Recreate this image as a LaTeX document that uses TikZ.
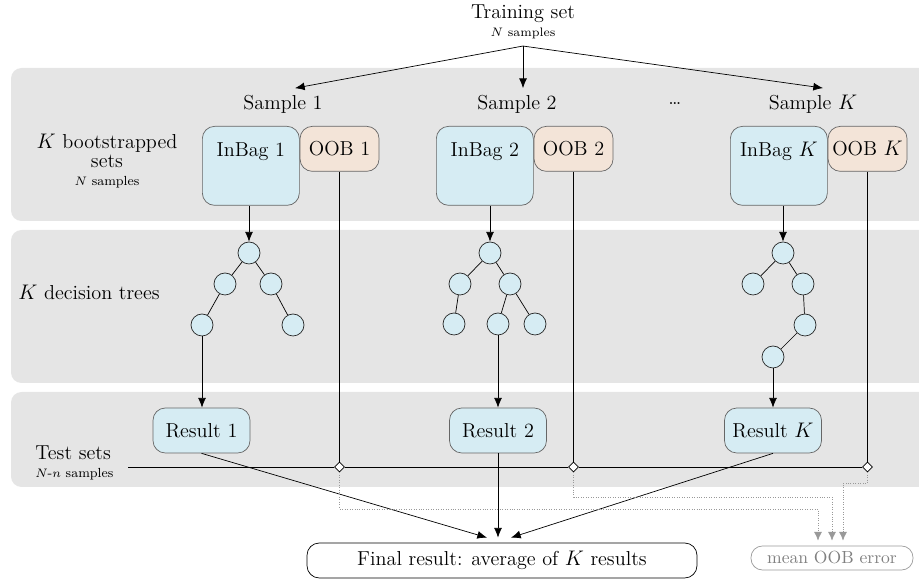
\documentclass[tikz,border=0pt,11pt]{standalone}
\usepackage{tikz}
\usetikzlibrary{positioning,shapes.geometric,arrows.meta}

\definecolor{bagblue}{RGB}{214,236,243}
\definecolor{oobpeach}{RGB}{243,228,216}
\definecolor{bandgray}{RGB}{229,229,229}

\tikzset{
  every node/.style={font=\fontsize{11.5}{13.5}\selectfont},
  band/.style={fill=bandgray,rounded corners=6pt},
  bagbox/.style={draw=gray!80!black,fill=bagblue,rounded corners=7pt,minimum width=1.94cm,inner xsep=0pt,inner ysep=0.3cm,text height=0.31cm,text depth=0.67cm,anchor=north west},
  oobbox/.style={draw=gray!80!black,fill=oobpeach,rounded corners=7pt,minimum width=1.58cm,minimum height=0.9cm,inner sep=0pt,anchor=north west},
  resbox/.style={draw=gray!80!black,fill=bagblue,rounded corners=7pt,minimum width=1.94cm,minimum height=0.9cm},
  leaf/.style={circle,draw=gray!30!black,fill=bagblue,minimum size=0.44cm,inner sep=0pt},
  junct/.style={diamond,draw=black,fill=white,inner sep=0pt,minimum size=0.2cm},
  arr/.style={-{Latex[length=5.5pt,width=4.5pt]}},
  oobarr/.style={densely dotted,gray!80,-{Latex[length=5pt,width=4.5pt]}},
}

\begin{document}
\begin{tikzpicture}
\clip (0,0) rectangle (18.38,11.58);

% bands
\fill[band] (0.22,10.22) rectangle (19,7.16);
\fill[band] (0.22,6.98) rectangle (19,3.92);
\fill[band] (0.22,3.74) rectangle (19,1.84);

% training set and samples
\node[align=center] (train) at (10.46,11.14) {Training set\\[-3pt]\fontsize{7}{8}\selectfont $N$ samples};

\node (s1) at (5.66,9.5) {Sample 1};
\node (s2) at (10.34,9.5) {Sample 2};
\node (sd) at (13.5,9.5) {\dots};
\node (sK) at (16.26,9.5) {Sample $K$};

\draw[arr] (train.south) -- ([xshift=0.24cm]s1.north);
\draw[arr] (train.south) -- (train.south |- s2.north);
\draw[arr] (train.south) -- ([xshift=0.2cm]sK.north);

% left labels
\node[align=center] (bootlbl) at (2.14,8.36) {$K$ bootstrapped\\[-2.5pt]sets\\[-3pt]\fontsize{7.5}{8.5}\selectfont $N$ samples};
\node (treelbl) at (1.78,5.74) {$K$ decision trees};
\node[align=left,anchor=west] (testlbl) at (0.57,2.32) {Test sets\\[-3pt]\fontsize{7.5}{8.5}\selectfont $N$-$n$ samples};

% bootstrapped sets
\node[bagbox] (in1) at (4.04,9.06) {InBag 1};
\node[oobbox] (oob1) at (in1.north east) {OOB 1};
\node[bagbox] (in2) at (8.72,9.06) {InBag 2};
\node[oobbox] (oob2) at (in2.north east) {OOB 2};
\node[bagbox] (inK) at (14.6,9.06) {InBag $K$};
\node[oobbox] (oobK) at (inK.north east) {OOB $K$};

% tree 1
\node[leaf] (t1a) at (4.98,6.52) {};
\node[leaf] (t1b) at (4.5,5.9) {};
\node[leaf] (t1c) at (5.42,5.9) {};
\node[leaf] (t1d) at (4.04,5.08) {};
\node[leaf] (t1e) at (5.86,5.08) {};
\draw (t1a) -- (t1b) -- (t1d);
\draw (t1a) -- (t1c) -- (t1e);

% tree 2
\node[leaf] (t2a) at (9.8,6.52) {};
\node[leaf] (t2b) at (9.2,5.9) {};
\node[leaf] (t2c) at (10.2,5.9) {};
\node[leaf] (t2d) at (9.08,5.1) {};
\node[leaf] (t2e) at (9.96,5.1) {};
\node[leaf] (t2f) at (10.7,5.1) {};
\draw (t2a) -- (t2b) -- (t2d);
\draw (t2a) -- (t2c) -- (t2e);
\draw (t2c) -- (t2f);

% tree K
\node[leaf] (tKa) at (15.66,6.52) {};
\node[leaf] (tKb) at (15.06,5.9) {};
\node[leaf] (tKc) at (16.06,5.9) {};
\node[leaf] (tKd) at (16.1,5.08) {};
\node[leaf] (tKe) at (15.46,4.44) {};
\draw (tKa) -- (tKb);
\draw (tKa) -- (tKc) -- (tKd) -- (tKe);

\draw[arr] (t1a |- in1.south) -- (t1a);
\draw[arr] (t2a |- in2.south) -- (t2a);
\draw[arr] (tKa |- inK.south) -- (tKa);

% results
\node[resbox] (r1) at (4.03,2.97) {Result 1};
\node[resbox] (r2) at (9.96,2.97) {Result 2};
\node[resbox] (rK) at (15.46,2.97) {Result $K$};

\draw[arr] (t1d) -- (t1d |- r1.north);
\draw[arr] (t2e) -- (t2e |- r2.north);
\draw[arr] (tKe) -- (tKe |- rK.north);

% test sets line
\coordinate (tstart) at (2.56,2.24);
\node[junct] (d1) at (oob1.south |- tstart) {};
\node[junct] (d2) at (oob2.south |- tstart) {};
\node[junct] (dK) at (oobK.south |- tstart) {};
\draw (tstart) -- (d1) -- (d2) -- (dK);
\draw (oob1.south) -- (d1);
\draw (oob2.south) -- (d2);
\draw (oobK.south) -- (dK);

% final results
\node[draw=black,rounded corners=7pt,minimum width=7.8cm,minimum height=0.7cm] (final) at (10.04,0.37) {Final result: average of $K$ results};
\node[draw=gray!80,text=gray,rounded corners=6.5pt,minimum width=3.24cm,minimum height=0.48cm,inner sep=1.5pt,font=\small] (mean) at (16.64,0.42) {mean OOB error};

\coordinate (fin1) at ([xshift=-0.3cm,yshift=0.1cm]final.north);
\coordinate (finK) at ([xshift=0.18cm,yshift=0.1cm]final.north);
\draw[arr] (r1.south) -- (fin1);
\draw[arr,shorten >=0.1cm] (r2.south) -- (r2.south |- final.north);
\draw[arr] (rK.south) -- (finK);

\draw[oobarr] (d1.south) -- (d1 |- 0,1.40) -| ([xshift=-0.28cm,yshift=0.1cm]mean.north);
\draw[oobarr] (d2.south) -- (d2 |- 0,1.64) -| ([yshift=0.1cm]mean.north);
\draw[oobarr] (dK.south) -- (dK |- 0,1.92) -| ([xshift=0.22cm,yshift=0.1cm]mean.north);

\end{tikzpicture}
\end{document}
